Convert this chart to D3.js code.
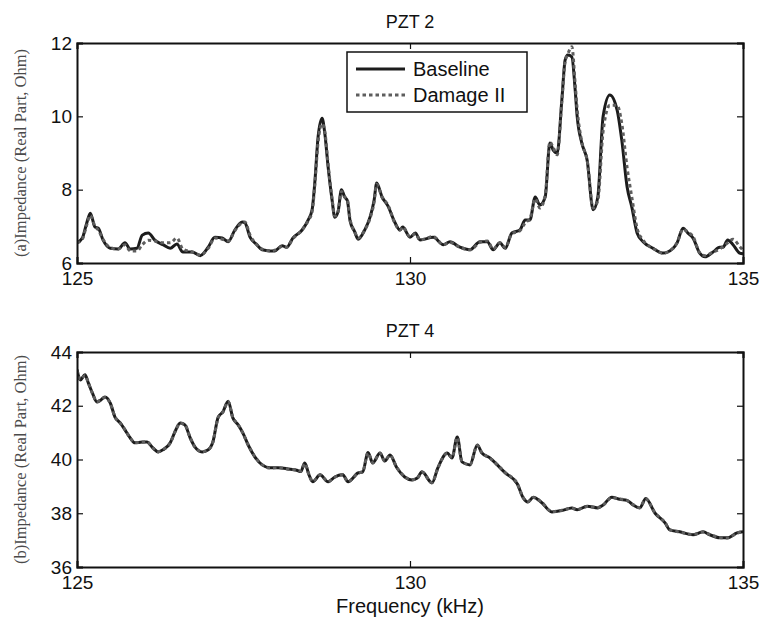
<!DOCTYPE html>
<html>
<head>
<meta charset="utf-8">
<script src="https://d3js.org/d3.v7.min.js"></script>
<style>
body { margin: 0; background: #fff; }
svg text { font-family: "Liberation Sans", Arial, sans-serif; fill: #111; }
</style>
</head>
<body>
<svg id="chart" width="763" height="621"></svg>
<script>
// PZT 2 (top panel), frequency in kHz, impedance in Ohm
var freqA = [125.00, 125.08, 125.14, 125.20, 125.27, 125.32, 125.39, 125.50, 125.62, 125.72, 125.80, 125.90,
    125.98, 126.07, 126.17, 126.29, 126.40, 126.50, 126.59, 126.73, 126.85, 126.97, 127.07, 127.18, 127.27,
    127.37, 127.48, 127.52, 127.60, 127.70, 127.78, 127.90, 127.97, 128.08, 128.15, 128.24, 128.38, 128.47,
    128.53, 128.57, 128.62, 128.68, 128.72, 128.77, 128.83, 128.87, 128.92, 128.97, 129.02, 129.06, 129.10,
    129.17, 129.22, 129.32, 129.40, 129.46, 129.50, 129.58, 129.67, 129.77, 129.85, 129.89, 130.00, 130.08,
    130.15, 130.35, 130.50, 130.60, 130.75, 130.90, 131.05, 131.16, 131.25, 131.35, 131.43, 131.53, 131.65,
    131.73, 131.80, 131.88, 131.95, 132.03, 132.10, 132.15, 132.21, 132.28, 132.33, 132.37, 132.43, 132.48,
    132.51, 132.58, 132.66, 132.75, 132.82, 132.90, 133.00, 133.11, 133.18, 133.26, 133.33, 133.41, 133.50,
    133.65, 133.80, 133.87, 134.01, 134.10, 134.17, 134.25, 134.35, 134.43, 134.55, 134.65, 134.70, 134.77,
    134.85, 134.95, 135.00];
var baselineA = [6.55, 6.68, 7.05, 7.36, 6.98, 6.95, 6.63, 6.40, 6.38, 6.55, 6.38, 6.40,
    6.76, 6.82, 6.62, 6.50, 6.40, 6.52, 6.30, 6.30, 6.20, 6.43, 6.70, 6.68, 6.58,
    6.90, 7.12, 7.10, 6.70, 6.50, 6.36, 6.33, 6.33, 6.47, 6.43, 6.68, 6.90, 7.17,
    7.45, 8.18, 9.44, 9.95, 9.55, 8.63, 7.72, 7.25, 7.40, 8.00, 7.80, 7.70, 7.15,
    6.85, 6.65, 6.90, 7.25, 7.70, 8.18, 7.80, 7.55, 7.12, 6.90, 6.98, 6.70, 6.82,
    6.63, 6.70, 6.50, 6.58, 6.43, 6.36, 6.58, 6.58, 6.36, 6.55, 6.40, 6.82, 6.90,
    7.17, 7.17, 7.80, 7.58, 7.80, 9.27, 9.08, 9.00, 10.45, 11.54, 11.67, 11.62, 10.72,
    10.00, 9.27, 8.80, 7.45, 7.80, 10.00, 10.58, 10.17, 9.35, 8.07, 7.53, 6.82, 6.58,
    6.40, 6.27, 6.30, 6.55, 6.95, 6.82, 6.68, 6.27, 6.17, 6.30, 6.43, 6.43, 6.63,
    6.50, 6.27, 6.25];
var damageA = [6.55, 6.65, 7.00, 7.30, 7.00, 6.90, 6.65, 6.42, 6.38, 6.50, 6.33, 6.33,
    6.50, 6.62, 6.60, 6.55, 6.55, 6.68, 6.38, 6.30, 6.22, 6.40, 6.68, 6.65, 6.60,
    6.88, 7.10, 7.12, 6.75, 6.50, 6.38, 6.33, 6.35, 6.45, 6.43, 6.66, 6.90, 7.15,
    7.40, 8.10, 9.30, 9.80, 9.60, 8.70, 7.75, 7.28, 7.40, 7.95, 7.80, 7.72, 7.20,
    6.85, 6.68, 6.90, 7.22, 7.65, 8.15, 7.80, 7.58, 7.10, 6.90, 6.98, 6.72, 6.80,
    6.63, 6.72, 6.50, 6.56, 6.43, 6.36, 6.56, 6.60, 6.38, 6.55, 6.42, 6.80, 6.88,
    7.10, 7.20, 7.75, 7.50, 7.85, 9.30, 9.15, 8.95, 10.40, 11.50, 11.70, 11.90, 10.90,
    10.20, 9.30, 8.80, 7.50, 7.70, 9.60, 10.30, 10.30, 9.80, 8.60, 7.80, 6.95, 6.62,
    6.40, 6.27, 6.30, 6.55, 6.92, 6.85, 6.72, 6.28, 6.20, 6.30, 6.38, 6.45, 6.55,
    6.65, 6.45, 6.35];

// PZT 4 (bottom panel)
var freqB = [125.00, 125.05, 125.12, 125.17, 125.23, 125.30, 125.35, 125.42, 125.50, 125.57, 125.65, 125.72,
    125.80, 125.87, 125.98, 126.05, 126.14, 126.22, 126.29, 126.40, 126.47, 126.55, 126.62, 126.70, 126.77,
    126.88, 126.97, 127.04, 127.12, 127.19, 127.27, 127.34, 127.42, 127.49, 127.57, 127.67, 127.78, 127.90,
    128.02, 128.17, 128.30, 128.36, 128.42, 128.48, 128.54, 128.65, 128.77, 128.87, 128.99, 129.07, 129.22,
    129.29, 129.37, 129.44, 129.55, 129.62, 129.70, 129.80, 129.92, 130.03, 130.11, 130.18, 130.33, 130.42,
    130.56, 130.63, 130.71, 130.78, 130.90, 131.01, 131.08, 131.20, 131.31, 131.43, 131.61, 131.70, 131.77,
    131.85, 131.98, 132.13, 132.28, 132.43, 132.51, 132.66, 132.82, 132.90, 133.03, 133.15, 133.26, 133.35,
    133.45, 133.54, 133.68, 133.83, 133.90, 134.05, 134.25, 134.40, 134.50, 134.65, 134.77, 134.91, 135.00];
var baselineB = [43.35, 42.96, 43.15, 42.85, 42.48, 42.14, 42.20, 42.33, 42.10, 41.58, 41.36, 41.10,
    40.80, 40.62, 40.65, 40.65, 40.43, 40.28, 40.36, 40.62, 41.03, 41.36, 41.29, 40.80, 40.47,
    40.28, 40.36, 40.65, 41.58, 41.77, 42.17, 41.55, 41.29, 40.99, 40.54, 40.10, 39.80, 39.69,
    39.69, 39.65, 39.60, 39.55, 39.87, 39.45, 39.17, 39.43, 39.17, 39.35, 39.43, 39.17, 39.50,
    39.54, 40.26, 39.87, 40.24, 39.94, 40.17, 39.70, 39.35, 39.24, 39.31, 39.54, 39.13, 39.70,
    40.24, 40.06, 40.84, 39.91, 39.80, 40.54, 40.24, 40.06, 39.80, 39.50, 39.10, 38.57, 38.42,
    38.60, 38.39, 38.05, 38.10, 38.20, 38.13, 38.26, 38.20, 38.31, 38.60, 38.52, 38.48, 38.31,
    38.20, 38.55, 38.00, 37.64, 37.38, 37.31, 37.20, 37.31, 37.20, 37.09, 37.09, 37.27, 37.31];
var damageB = [43.33, 42.98, 43.13, 42.86, 42.47, 42.15, 42.21, 42.31, 42.09, 41.59, 41.35, 41.11,
    40.79, 40.63, 40.64, 40.66, 40.42, 40.29, 40.37, 40.61, 41.02, 41.35, 41.30, 40.81, 40.46,
    40.29, 40.37, 40.64, 41.56, 41.76, 42.15, 41.56, 41.30, 40.98, 40.55, 40.11, 39.81, 39.68,
    39.70, 39.64, 39.61, 39.56, 39.85, 39.46, 39.18, 39.42, 39.18, 39.34, 39.44, 39.18, 39.49,
    39.55, 40.24, 39.88, 40.23, 39.95, 40.16, 39.71, 39.36, 39.25, 39.30, 39.53, 39.14, 39.69,
    40.23, 40.07, 40.82, 39.92, 39.81, 40.52, 40.25, 40.05, 39.81, 39.51, 39.11, 38.58, 38.43,
    38.59, 38.40, 38.06, 38.11, 38.19, 38.14, 38.25, 38.21, 38.30, 38.58, 38.53, 38.47, 38.32,
    38.21, 38.53, 38.01, 37.65, 37.39, 37.30, 37.21, 37.30, 37.21, 37.10, 37.08, 37.26, 37.32];

var xTicks = [125, 130, 135];
var yTicksA = [6, 8, 10, 12];
var yTicksB = [36, 38, 40, 42, 44];
var seriesNames = ['Baseline', 'Damage II'];
var titles = ['PZT 2', 'PZT 4'];
var yLabels = ['(a)Impedance (Real Part, Ohm)', '(b)Impedance (Real Part, Ohm)'];

var svg = d3.select('#chart');
var left = 77, right = 743;
var x = d3.scaleLinear().domain([125, 135]).range([left, right]);

var styles = [
    {stroke: '#1c1c1c', width: 3, dash: null},
    {stroke: '#5e5e5e', width: 3, dash: '3.5,3'}
];

function zip(fs, vs) {
    return fs.map(function(f, i) { return {f: f, v: vs[i]}; });
}

function panel(cfg) {
    var y = d3.scaleLinear().domain(cfg.domain).range([cfg.bottom, cfg.top]);
    var g = svg.append('g');

    g.append('defs').append('clipPath').attr('id', cfg.id)
        .append('rect')
        .attr('x', left).attr('y', cfg.top)
        .attr('width', right - left).attr('height', cfg.bottom - cfg.top);

    var line = d3.line()
        .x(function(d) { return x(d.f); })
        .y(function(d) { return y(d.v); })
        .curve(d3.curveMonotoneX);

    cfg.series.forEach(function(s, i) {
        g.append('path')
            .datum(zip(cfg.freq, s))
            .attr('clip-path', 'url(#' + cfg.id + ')')
            .attr('d', line)
            .attr('fill', 'none')
            .attr('stroke', styles[i].stroke)
            .attr('stroke-width', styles[i].width)
            .attr('stroke-linejoin', 'round')
            .attr('stroke-dasharray', styles[i].dash);
    });

    //MATLAB style box, ticks point inward on all four sides
    g.append('g').attr('transform', 'translate(0,' + cfg.bottom + ')')
        .call(d3.axisBottom(x).tickValues(xTicks).tickSize(-6).tickPadding(9).tickFormat(d3.format('d')));
    g.append('g').attr('transform', 'translate(0,' + cfg.top + ')')
        .call(d3.axisTop(x).tickValues(xTicks).tickSize(-6).tickFormat(''));
    g.append('g').attr('transform', 'translate(' + left + ',0)')
        .call(d3.axisLeft(y).tickValues(cfg.yTicks).tickSize(-6).tickPadding(5).tickFormat(d3.format('d')));
    g.append('g').attr('transform', 'translate(' + right + ',0)')
        .call(d3.axisRight(y).tickValues(cfg.yTicks).tickSize(-6).tickFormat(''));

    g.selectAll('.domain').attr('stroke', '#111').attr('stroke-width', 2);
    g.selectAll('.tick line').attr('stroke', '#111').attr('stroke-width', 1.2);
    g.selectAll('.tick text').attr('font-size', 19).attr('fill', '#111');

    g.append('text')
        .attr('x', x(130)).attr('y', cfg.top - 15)
        .attr('text-anchor', 'middle')
        .attr('font-size', 18)
        .text(cfg.title);

    g.append('text')
        .attr('transform', 'translate(26,' + ((cfg.top + cfg.bottom) / 2) + ') rotate(-90)')
        .attr('text-anchor', 'middle')
        .style('font-family', '"Liberation Serif", "Times New Roman", serif')
        .style('fill', '#4a4a4a')
        .attr('font-size', 16.5)
        .text(cfg.ylabel);
    return g;
}

var gA = panel({id: 'clipA', top: 43, bottom: 263, domain: [6, 12], yTicks: yTicksA,
    freq: freqA, series: [baselineA, damageA], title: titles[0], ylabel: yLabels[0]});
panel({id: 'clipB', top: 352, bottom: 567, domain: [36, 44], yTicks: yTicksB,
    freq: freqB, series: [baselineB, damageB], title: titles[1], ylabel: yLabels[1]});

// legend in the top panel
var leg = gA.append('g').attr('transform', 'translate(347,52)');
leg.append('rect')
    .attr('width', 180).attr('height', 60)
    .attr('fill', '#fff').attr('stroke', '#111').attr('stroke-width', 1.5);
seriesNames.forEach(function(name, i) {
    var yy = 17 + i * 26;
    leg.append('line')
        .attr('x1', 9).attr('x2', 58).attr('y1', yy).attr('y2', yy)
        .attr('stroke', styles[i].stroke)
        .attr('stroke-width', styles[i].width)
        .attr('stroke-dasharray', styles[i].dash);
    leg.append('text')
        .attr('x', 66).attr('y', yy + 7)
        .attr('font-size', 20)
        .text(name);
});

svg.append('text')
    .attr('x', x(130)).attr('y', 613)
    .attr('text-anchor', 'middle')
    .attr('font-size', 20)
    .text('Frequency (kHz)');
</script>
</body>
</html>
